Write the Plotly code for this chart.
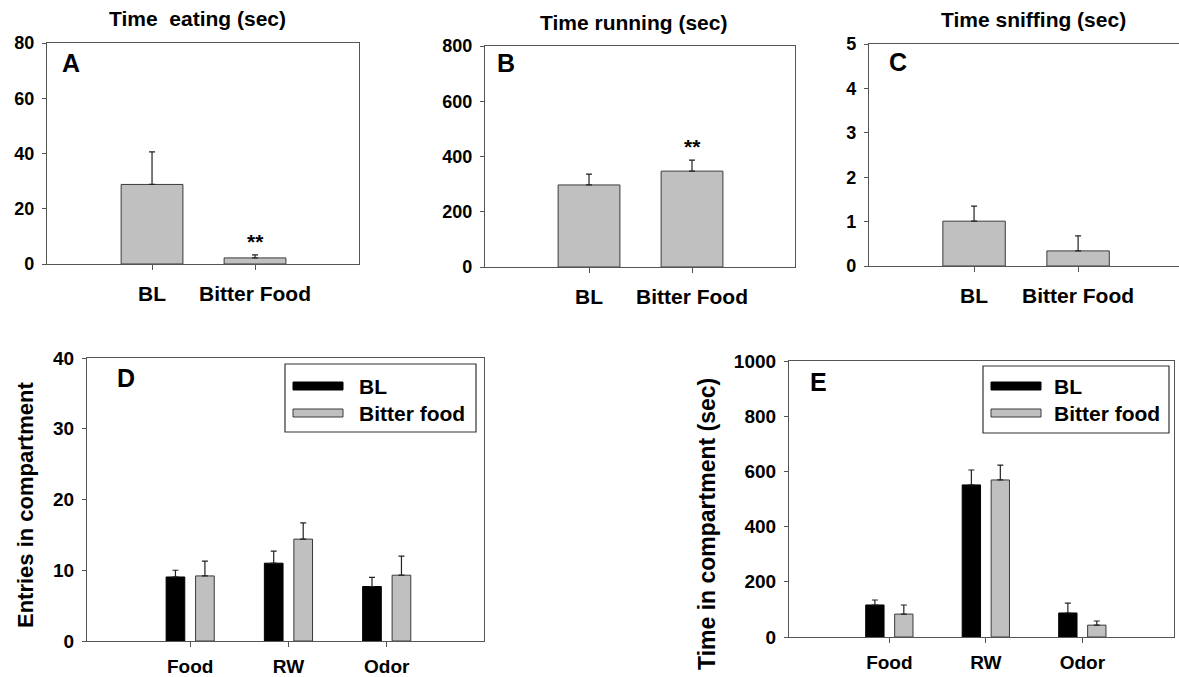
import plotly.graph_objects as go

W, H = 1179, 677

# ---------------- data ----------------
groups_top = ["BL", "Bitter Food"]
eat_mean = [28.8, 2.2]
eat_sem = [11.8, 1.1]
run_mean = [297, 347]
run_sem = [39, 40]
sniff_mean = [1.01, 0.34]
sniff_sem = [0.34, 0.34]

compartments = ["Food", "RW", "Odor"]
series_names = ["BL", "Bitter food"]
entries_bl = [9.05, 11.0, 7.7]
entries_bl_sem = [0.95, 1.7, 1.3]
entries_bf = [9.2, 14.4, 9.3]
entries_bf_sem = [2.1, 2.3, 2.7]
time_bl = [116, 551, 87]
time_bl_sem = [18, 54, 36]
time_bf = [83, 569, 43]
time_bf_sem = [33, 54, 15]

titles_top = ["Time  eating (sec)", "Time running (sec)", "Time sniffing (sec)"]
panel_letters = ["A", "B", "C", "D", "E"]
ytitle_d = "Entries in compartment"
ytitle_e = "Time in compartment (sec)"

# ---------------- style ----------------
FONT = "Liberation Sans, Arial, Helvetica, sans-serif"
GRAY = "#c0c0c0"
EDGE = "#3a3a3a"
AX = "#555555"


def px(x):
    return x / W


def py(y):
    return 1 - y / H


fig = go.Figure()


def err(arr):
    return dict(type="data", array=arr, arrayminus=[0] * len(arr), symmetric=False,
                color="#222222", thickness=1.2, width=3)


# top panels
top_sets = [(eat_mean, eat_sem), (run_mean, run_sem), (sniff_mean, sniff_sem)]
for i, (m, s) in enumerate(top_sets):
    n = "" if i == 0 else str(i + 1)
    fig.add_trace(go.Bar(x=groups_top, y=m, width=0.6, marker=dict(color=GRAY, line=dict(color=EDGE, width=1)),
                         error_y=err(s), xaxis="x" + n, yaxis="y" + n, showlegend=False))

# bottom panels
for (bl, bls, bf, bfs, n) in [(entries_bl, entries_bl_sem, entries_bf, entries_bf_sem, "4"),
                              (time_bl, time_bl_sem, time_bf, time_bf_sem, "5")]:
    fig.add_trace(go.Bar(x=compartments, y=bl, width=0.19, offset=-0.245, name=series_names[0],
                         marker=dict(color="black", line=dict(color="black", width=1)),
                         error_y=err(bls), xaxis="x" + n, yaxis="y" + n, showlegend=False))
    fig.add_trace(go.Bar(x=compartments, y=bf, width=0.19, offset=0.055, name=series_names[1],
                         marker=dict(color=GRAY, line=dict(color=EDGE, width=1)),
                         error_y=err(bfs), xaxis="x" + n, yaxis="y" + n, showlegend=False))


def xax(dom, rng, anchor, fs, standoff=6, mirror=True):
    return dict(domain=dom, range=rng, anchor=anchor, type="category", showline=True, linecolor=AX,
                linewidth=1.2, mirror=mirror, ticks="outside", ticklen=5, tickcolor=AX, showgrid=False,
                zeroline=False, automargin=False,
                tickfont=dict(family=FONT, size=fs, color="black", weight="bold"),
                ticklabelstandoff=standoff, fixedrange=True)


def yax(dom, rng, dtick, anchor, fs, mirror=True):
    return dict(domain=dom, range=rng, anchor=anchor, dtick=dtick, showline=True, linecolor=AX,
                linewidth=1.2, mirror=mirror, ticks="outside", ticklen=4, tickcolor=AX, showgrid=False,
                zeroline=False, automargin=False,
                tickfont=dict(family=FONT, size=fs, color="black", weight="bold"),
                ticklabelstandoff=4, fixedrange=True)


layout = dict(
    template="none",
    width=W, height=H, margin=dict(l=0, r=0, t=0, b=0, autoexpand=False),
    paper_bgcolor="white", plot_bgcolor="white",
    barmode="overlay", font=dict(family=FONT, color="black"), showlegend=False,
    xaxis=xax([px(47), px(359)], [-1.02, 2.01], "y", 21),
    yaxis=yax([py(264), py(43)], [0, 80], 20, "x", 18),
    xaxis2=xax([px(485), px(795)], [-1.01, 2.0], "y2", 21),
    yaxis2=yax([py(267), py(46)], [0, 800], 200, "x2", 18),
    xaxis3=xax([px(869), 1.0], [-1.01, 1.97], "y3", 21, mirror=True),
    yaxis3=yax([py(266), py(44)], [0, 5], 1, "x3", 18, mirror=False),
    xaxis4=xax([px(87), px(484)], [-1.05, 2.99], "y4", 19, standoff=3),
    yaxis4=yax([py(641), py(358)], [0, 40], 10, "x4", 19),
    xaxis5=xax([px(789), px(1174)], [-1.04, 2.95], "y5", 19, standoff=3),
    yaxis5=yax([py(637), py(361)], [0, 1000], 200, "x5", 19),
)
fig.update_layout(**layout)

ann = []
# titles
for t, (cx, cy) in zip(titles_top, [(197, 19), (633, 22), (1033, 20)]):
    ann.append(dict(text=t, x=px(cx), y=py(cy), xref="paper", yref="paper", showarrow=False,
                    xanchor="center", yanchor="middle", font=dict(family=FONT, size=21, weight="bold")))
# panel letters
for L, (lx, ly) in zip(panel_letters, [(60, 63), (495, 63), (887, 62), (115, 378), (808, 382)]):
    ann.append(dict(text=L, x=px(lx), y=py(ly), xref="paper", yref="paper", showarrow=False,
                    xanchor="left", yanchor="middle", font=dict(family=FONT, size=25, weight="bold")))
# significance stars
ann.append(dict(text="**", x=groups_top[1], y=eat_mean[1] + eat_sem[1], xref="x", yref="y", showarrow=False,
                xanchor="center", yanchor="bottom", yshift=0, font=dict(family=FONT, size=21, weight="bold")))
ann.append(dict(text="**", x=groups_top[1], y=run_mean[1] + run_sem[1], xref="x2", yref="y2", showarrow=False,
                xanchor="center", yanchor="bottom", yshift=0, font=dict(family=FONT, size=21, weight="bold")))
# y titles
ann.append(dict(text=ytitle_d, x=px(25), y=py(505), xref="paper", yref="paper", showarrow=False, textangle=-90,
                xanchor="center", yanchor="middle", font=dict(family=FONT, size=22, weight="bold")))
ann.append(dict(text=ytitle_e, x=px(707), y=py(524), xref="paper", yref="paper", showarrow=False, textangle=-90,
                xanchor="center", yanchor="middle", font=dict(family=FONT, size=23, weight="bold")))

shapes = []
# manual legends
for (bx0, by0, bx1, by1, sx0, tx, ys) in [(285, 364, 476, 432, 293, 357, (386, 413)),
                                           (983, 366, 1169, 433, 991, 1052, (386, 413))]:
    shapes.append(dict(type="rect", xref="paper", yref="paper", x0=px(bx0), x1=px(bx1), y0=py(by1), y1=py(by0),
                       line=dict(color="#333333", width=1.2), fillcolor="white", layer="above"))
    for k, (nm, col, lc) in enumerate(zip(series_names, ["black", GRAY], ["black", EDGE])):
        yc = ys[k]
        shapes.append(dict(type="rect", xref="paper", yref="paper", x0=px(sx0), x1=px(sx0 + 50),
                           y0=py(yc + 4), y1=py(yc - 4), line=dict(color=lc, width=1), fillcolor=col,
                           layer="above"))
        ann.append(dict(text=nm, x=px(tx), y=py(yc), xref="paper", yref="paper", showarrow=False,
                        xanchor="left", yanchor="middle", font=dict(family=FONT, size=21, weight="bold")))

fig.update_layout(annotations=ann, shapes=shapes)
fig.write_html("out.html", config={"displayModeBar": False},
               post_script="document.body.style.margin='0';document.body.style.overflow='hidden';")
